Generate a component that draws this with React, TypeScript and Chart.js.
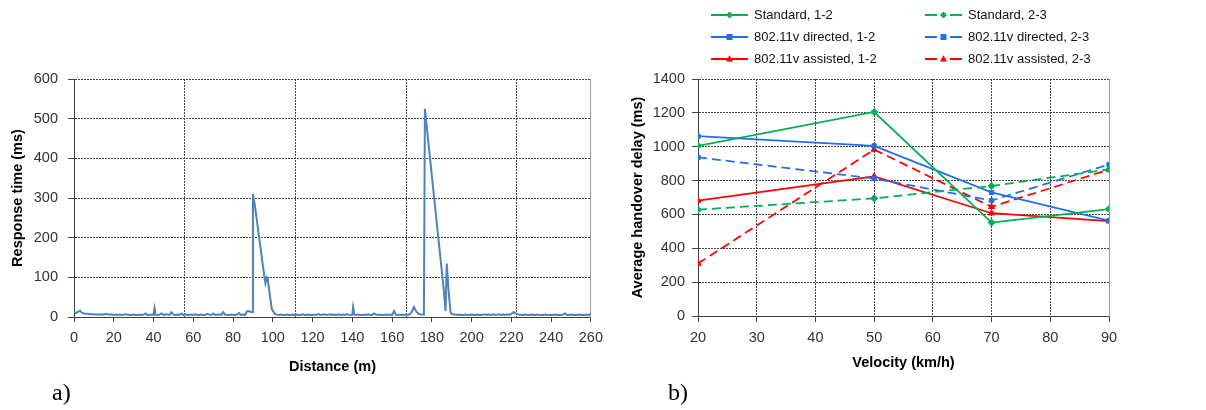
import React, { useEffect, useRef } from 'react';
import { Chart, registerables } from 'chart.js';

Chart.register(...registerables);

// ---------- Chart a) : response time vs distance ----------
const distance: number[] = [
  0, 1, 2, 3, 4, 5, 6, 7, 8, 9, 10,
  11, 12, 13, 14, 15, 16, 17, 18, 19, 20,
  21, 22, 23, 24, 25, 26, 27, 28, 29, 30,
  31, 32, 33, 34, 35, 36, 37, 38, 39, 40, 40.5, 41,
  42, 43, 44, 45, 46, 47, 48, 49, 50,
  51, 52, 53, 54, 55, 56, 57, 58, 59, 60,
  61, 62, 63, 64, 65, 66, 67, 68, 69, 70,
  71, 72, 73, 74, 75, 76, 77, 78, 79, 80,
  81, 82, 83, 84, 85, 86, 87, 88, 89, 89.7,
  90, 91, 92, 93, 94, 95, 96, 96.3, 97, 97.4, 98.5, 99.5, 100.5, 101, 102,
  103, 104, 105, 106, 107, 108, 109, 110,
  111, 112, 113, 114, 115, 116, 117, 118, 119, 120,
  121, 122, 123, 124, 125, 126, 127, 128, 129, 130,
  131, 132, 133, 134, 135, 136, 137, 138, 139, 140, 140.4, 141,
  142, 143, 144, 145, 146, 147, 148, 149, 150,
  151, 152, 153, 154, 155, 156, 157, 158, 159, 160,
  161, 162, 163, 164, 165, 166, 167, 168, 169,
  170, 171, 172, 173, 174, 175, 176, 176.5,
  177, 178, 179, 180, 181, 182, 183, 184, 185, 186, 186.9, 187.5, 188.5, 189.4, 190,
  191, 192, 193, 194, 195, 196, 197, 198, 199, 200,
  201, 202, 203, 204, 205, 206, 207, 208, 209, 210,
  211, 212, 213, 214, 215, 216, 217, 218, 219, 220,
  221, 222, 223, 224, 225, 226, 227, 228, 229, 230,
  231, 232, 233, 234, 235, 236, 237, 238, 239, 240,
  241, 242, 243, 244, 245, 246, 247, 248, 249, 250,
  251, 252, 253, 254, 255, 256, 257, 258, 259, 260,
];

const responseTime: number[] = [
  12, 10, 13, 16, 11, 9, 8, 8, 7, 7, 7,
  6, 6, 6, 7, 6, 8, 7, 6, 6, 5,
  6, 5, 6, 5, 6, 7, 6, 5, 5, 6,
  5, 5, 6, 5, 6, 9, 5, 5, 6, 5, 22, 6,
  5, 6, 9, 5, 7, 6, 5, 12, 6,
  5, 6, 5, 9, 5, 7, 5, 5, 6, 5,
  7, 5, 5, 6, 5, 5, 8, 6, 5, 9,
  5, 6, 7, 5, 12, 6, 5, 5, 6, 5,
  5, 6, 10, 5, 6, 5, 14, 15, 13, 12,
  310, 280, 243, 205, 168, 130, 93, 85, 100, 98, 55, 20, 12, 8, 6,
  5, 6, 5, 5, 6, 5, 5, 6,
  5, 6, 5, 5, 7, 5, 5, 6, 5, 5,
  6, 5, 8, 5, 6, 7, 5, 6, 7, 5,
  6, 5, 7, 5, 6, 5, 7, 6, 5, 6, 25, 6,
  5, 6, 5, 5, 6, 5, 7, 5, 5,
  9, 6, 5, 6, 5, 5, 6, 5, 6, 5,
  15, 5, 5, 6, 5, 5, 6, 5, 7,
  14, 25, 15, 9, 7, 6, 6, 525,
  500, 452, 404, 356, 308, 260, 212, 164, 116, 68, 15, 135, 60, 12, 8,
  6, 6, 5, 6, 5, 5, 6, 5, 5, 6,
  5, 5, 6, 5, 5, 6, 7, 5, 6, 5,
  7, 5, 6, 7, 5, 6, 5, 7, 6, 8,
  12, 10, 7, 6, 5, 5, 6, 5, 5, 6,
  5, 5, 6, 5, 5, 5, 6, 5, 5, 5,
  5, 6, 5, 5, 5, 6, 9, 5, 5, 6,
  5, 5, 5, 6, 5, 5, 5, 6, 5, 8,
];

const distanceGridLines: number[] = [55.7, 111.4, 167.3, 222.8];

// ---------- Chart b) : handover delay vs velocity ----------
const velocity: number[] = [20, 50, 70, 90];
const standard12: number[] = [1005, 1205, 552, 632];
const standard23: number[] = [628, 695, 768, 866];
const directed12: number[] = [1062, 1005, 730, 563];
const directed23: number[] = [937, 812, 682, 895];
const assisted12: number[] = [682, 825, 607, 560];
const assisted23: number[] = [310, 983, 645, 865];

const seriesLabels: string[] = [
  'Standard, 1-2',
  'Standard, 2-3',
  '802.11v directed, 1-2',
  '802.11v directed, 2-3',
  '802.11v assisted, 1-2',
  '802.11v assisted, 2-3',
];

const FONT = '"Liberation Sans", Arial, sans-serif';
const GREEN = '#00B050';
const BLUE = '#1F6FEB';
const RED = '#FF0000';
const GRID = '#444444';
const AXIS = '#404040';
const TICK = '#333333';
const DASH = [9, 5];

const tickFont = { family: FONT, size: 14.5 };
const titleFont = { family: FONT, size: 14.5, weight: 'bold' as const };
const plainNumber = (v: any) => String(v);

type SeriesStyle = { color: string; dashed: boolean; marker: 'rectRot' | 'rect' | 'triangle' };
const seriesStyles: SeriesStyle[] = [
  { color: GREEN, dashed: false, marker: 'rectRot' },
  { color: GREEN, dashed: true, marker: 'rectRot' },
  { color: BLUE, dashed: false, marker: 'rect' },
  { color: BLUE, dashed: true, marker: 'rect' },
  { color: RED, dashed: false, marker: 'triangle' },
  { color: RED, dashed: true, marker: 'triangle' },
];

function ResponseChart() {
  const ref = useRef<HTMLCanvasElement>(null);
  useEffect(() => {
    if (!ref.current) return;
    const chart = new Chart(ref.current, {
      type: 'line',
      data: {
        datasets: [
          {
            data: distance.map((d, i) => ({ x: d, y: responseTime[i] })),
            borderColor: '#4F81BD',
            borderWidth: 2,
            pointRadius: 0,
            tension: 0,
            fill: false,
          },
        ],
      },
      options: {
        animation: false,
        responsive: false,
        devicePixelRatio: 1,
        layout: { padding: { left: 0, top: 79, right: 18, bottom: 0 } },
        plugins: { legend: { display: false }, tooltip: { enabled: false } },
        scales: {
          x: {
            type: 'linear',
            position: 'bottom',
            min: 0,
            max: 260,
            ticks: { stepSize: 20, font: tickFont, color: TICK, padding: 7, maxRotation: 0, autoSkip: false, callback: plainNumber },
            grid: { drawOnChartArea: false, tickLength: 5, tickColor: AXIS },
            border: { color: AXIS, width: 1 },
            title: { display: true, text: 'Distance (m)', font: titleFont, color: '#000', padding: { top: 0, bottom: 34 } },
            afterFit: (s: any) => { s.height = 93; },
          },
          xg: {
            type: 'linear',
            position: 'top',
            min: 0,
            max: 260,
            ticks: { display: false },
            grid: { color: GRID, lineWidth: 1, drawTicks: false },
            border: { display: false, dash: [2, 1] },
            afterBuildTicks: (s: any) => { s.ticks = distanceGridLines.map((v) => ({ value: v })); },
            afterFit: (s: any) => { s.height = 0; },
          },
          y: {
            type: 'linear',
            min: 0,
            max: 600,
            ticks: { stepSize: 100, font: tickFont, color: TICK, padding: 10, callback: plainNumber },
            grid: { color: GRID, tickColor: AXIS, tickLength: 6 },
            border: { color: AXIS, width: 1, dash: [2, 1] },
            title: { display: true, text: 'Response time (ms)', font: titleFont, color: '#000', padding: { top: 9, bottom: 0 } },
            afterFit: (s: any) => { s.width = 74; },
          },
          yr: {
            type: 'linear',
            position: 'right',
            min: 0,
            max: 600,
            ticks: { display: false },
            grid: { drawOnChartArea: false, drawTicks: false },
            border: { color: '#9a9a9a', width: 1 },
            afterFit: (s: any) => { s.width = 0; },
          },
        },
      } as any,
    });
    return () => chart.destroy();
  }, []);
  return (
    <canvas
      ref={ref}
      width={610}
      height={410}
      style={{ position: 'absolute', left: 0, top: 0, width: 610, height: 410 }}
    />
  );
}

function HandoverChart() {
  const ref = useRef<HTMLCanvasElement>(null);
  useEffect(() => {
    if (!ref.current) return;
    const values = [standard12, standard23, directed12, directed23, assisted12, assisted23];
    const chart = new Chart(ref.current, {
      type: 'line',
      data: {
        datasets: values.map((vals, k) => ({
          label: seriesLabels[k],
          data: velocity.map((v, i) => ({ x: v, y: vals[i] })),
          borderColor: seriesStyles[k].color,
          backgroundColor: seriesStyles[k].color,
          borderWidth: 1.75,
          borderDash: seriesStyles[k].dashed ? DASH : [],
          pointStyle: seriesStyles[k].marker,
          pointRadius: seriesStyles[k].marker === 'rect' ? 3 : 3.5,
          pointBorderWidth: 1,
          pointBorderColor: seriesStyles[k].color,
          pointBackgroundColor: seriesStyles[k].color,
          tension: 0,
          fill: false,
        })),
      },
      options: {
        animation: false,
        responsive: false,
        devicePixelRatio: 1,
        layout: { padding: { left: 0, top: 79, right: 97, bottom: 0 } },
        plugins: { legend: { display: false }, tooltip: { enabled: false } },
        scales: {
          x: {
            type: 'linear',
            position: 'bottom',
            min: 20,
            max: 90,
            ticks: { stepSize: 10, font: tickFont, color: TICK, padding: 7, maxRotation: 0, autoSkip: false, callback: plainNumber },
            grid: { color: GRID, tickColor: AXIS, tickLength: 6 },
            border: { color: AXIS, width: 1, dash: [2, 1] },
            title: { display: true, text: 'Velocity (km/h)', font: titleFont, color: '#000', padding: { top: 0, bottom: 38 } },
            afterFit: (s: any) => { s.height = 94; },
          },
          y: {
            type: 'linear',
            min: 0,
            max: 1400,
            ticks: { stepSize: 200, font: tickFont, color: TICK, padding: 7, callback: plainNumber },
            grid: { color: GRID, tickColor: AXIS, tickLength: 6 },
            border: { color: AXIS, width: 1, dash: [2, 1] },
            title: { display: true, text: 'Average handover delay (ms)', font: titleFont, color: '#000', padding: { top: 29, bottom: 0 } },
            afterFit: (s: any) => { s.width = 98; },
          },
          yr: {
            type: 'linear',
            position: 'right',
            min: 0,
            max: 1400,
            ticks: { display: false },
            grid: { drawOnChartArea: false, drawTicks: false },
            border: { color: '#9a9a9a', width: 1 },
            afterFit: (s: any) => { s.width = 0; },
          },
        },
      } as any,
    });
    return () => chart.destroy();
  }, []);
  return (
    <canvas
      ref={ref}
      width={606}
      height={410}
      style={{ position: 'absolute', left: 600, top: 0, width: 606, height: 410 }}
    />
  );
}

function LegendSample({ style }: { style: SeriesStyle }) {
  const c = style.color;
  const cx = 18.5;
  const cy = 6;
  let marker: React.ReactNode;
  if (style.marker === 'rectRot') {
    marker = <polygon points={`${cx},${cy - 3.5} ${cx + 3.5},${cy} ${cx},${cy + 3.5} ${cx - 3.5},${cy}`} fill={c} />;
  } else if (style.marker === 'rect') {
    marker = <rect x={cx - 3} y={cy - 3} width={6} height={6} fill={c} />;
  } else {
    marker = <polygon points={`${cx},${cy - 3.8} ${cx + 3.5},${cy + 2.6} ${cx - 3.5},${cy + 2.6}`} fill={c} />;
  }
  return (
    <svg width={38} height={12} style={{ display: 'block' }}>
      {style.dashed ? (
        <>
          <line x1={0} y1={cy} x2={12} y2={cy} stroke={c} strokeWidth={2} />
          <line x1={25} y1={cy} x2={37} y2={cy} stroke={c} strokeWidth={2} />
        </>
      ) : (
        <line x1={0} y1={cy} x2={37} y2={cy} stroke={c} strokeWidth={2} />
      )}
      {marker}
    </svg>
  );
}

function Legend() {
  const rowY = [15, 37, 59];
  const colX = [711, 925];
  return (
    <>
      {seriesLabels.map((label, k) => {
        const row = Math.floor(k / 2);
        const col = k % 2;
        return (
          <div
            key={label}
            style={{
              position: 'absolute',
              left: colX[col],
              top: rowY[row] - 8,
              height: 16,
              display: 'flex',
              alignItems: 'center',
              whiteSpace: 'nowrap',
            }}
          >
            <LegendSample style={seriesStyles[k]} />
            <span style={{ marginLeft: 5, fontFamily: FONT, fontSize: 13, color: '#111', lineHeight: '16px' }}>{label}</span>
          </div>
        );
      })}
    </>
  );
}

export default function App() {
  return (
    <div style={{ position: 'absolute', left: 0, top: 0, width: 1206, height: 410, background: '#fff', overflow: 'hidden' }}>
      <ResponseChart />
      <HandoverChart />
      <Legend />
      <span style={{ position: 'absolute', left: 52, top: 380, fontFamily: '"Liberation Serif", "Times New Roman", serif', fontSize: 24, lineHeight: 1, color: '#000' }}>a)</span>
      <span style={{ position: 'absolute', left: 668, top: 380, fontFamily: '"Liberation Serif", "Times New Roman", serif', fontSize: 24, lineHeight: 1, color: '#000' }}>b)</span>
    </div>
  );
}
